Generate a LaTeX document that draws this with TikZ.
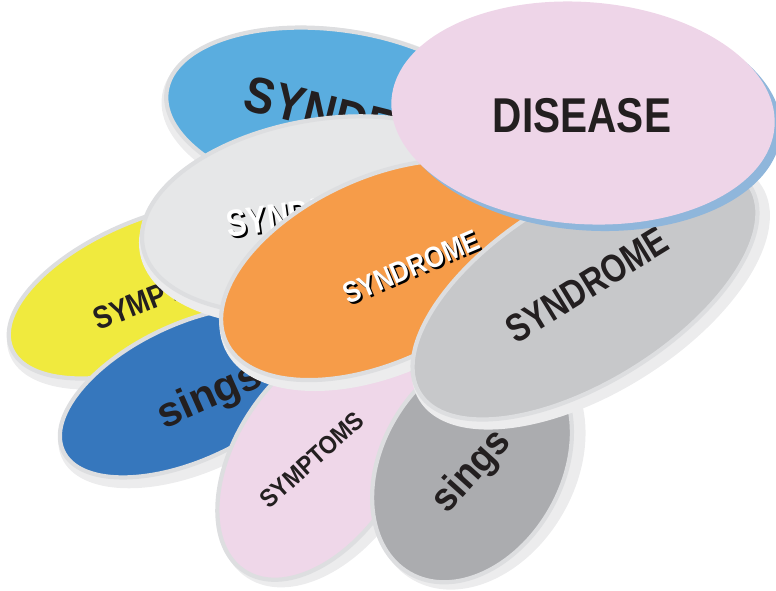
\documentclass[tikz,border=0pt]{standalone}
\usepackage{fontspec}
\setmainfont{Liberation Sans}
\definecolor{halogray}{HTML}{ECECED}
\definecolor{rimgray}{HTML}{DDDEE0}
\definecolor{skyblob}{HTML}{5AADDF}
\definecolor{paleblob}{HTML}{E6E7E8}
\definecolor{lemonblob}{HTML}{F0EA3E}
\definecolor{navyblob}{HTML}{3677BD}
\definecolor{orangeblob}{HTML}{F69C49}
\definecolor{pinkblob}{HTML}{EFD7E9}
\definecolor{slateblob}{HTML}{ABACAF}
\definecolor{silverblob}{HTML}{C7C8CA}
\definecolor{diseaseblob}{HTML}{EED5E8}
\definecolor{diseaseshade}{HTML}{8FB6DB}
\definecolor{inkblack}{HTML}{231F20}

\begin{document}
\begin{tikzpicture}[x=0.01cm, y=-0.01cm]
	\tikzstyle{halo}=[fill=halogray]
	\tikzstyle{blob}=[draw=rimgray, line width=1.2pt]
	\tikzstyle{word}=[inner sep=0pt, text=inkblack, font=\bfseries]
	\tikzstyle{whiteword}=[inner sep=0pt, text=white, font=\bfseries]
	\tikzstyle{shadeword}=[inner sep=0pt, text=black, font=\bfseries]
	\useasboundingbox (0,0) rectangle (776,590);
	% top blue
	\fill[halo, rotate around={-8:(335,115)}] (338,120) ellipse [x radius=177, y radius=92];
	\draw[blob, fill=skyblob, rotate around={-8:(335,115)}] (335,115) ellipse [x radius=170, y radius=85];
	\node[word, rotate=-14, xscale=0.88] (topsyn) at (372,124) {\fontsize{14.5pt}{14.5pt}\selectfont SYNDROME};
	% yellow
	\fill[halo, rotate around={22:(155,290)}] (158,296) ellipse [x radius=162, y radius=79];
	\draw[blob, fill=lemonblob, rotate around={22:(155,290)}] (155,290) ellipse [x radius=155, y radius=72];
	\node[word, rotate=21, xscale=0.85] (leftsym) at (166,293) {\fontsize{9pt}{9pt}\selectfont SYMPTOMS};
	% dark blue
	\fill[halo, rotate around={25:(190,392)}] (193,398) ellipse [x radius=147, y radius=75];
	\draw[blob, fill=navyblob, rotate around={25:(190,392)}] (190,392) ellipse [x radius=140, y radius=68];
	\node[word, rotate=24] (leftsig) at (210,397) {\fontsize{12pt}{12pt}\selectfont sings};
	% pale grey
	\fill[halo, rotate around={10:(320,215)}] (323,221) ellipse [x radius=187, y radius=102];
	\draw[blob, fill=paleblob, rotate around={10:(320,215)}] (320,215) ellipse [x radius=180, y radius=95];
	\node[shadeword, rotate=8, xscale=0.8] (palesynshade) at (316,214) {\fontsize{10.8pt}{10.8pt}\selectfont SYNDROME};
	\node[whiteword, rotate=8, xscale=0.8] (palesyn) at (314,212) {\fontsize{10.8pt}{10.8pt}\selectfont SYNDROME};
	% light pink
	\fill[halo, rotate around={57:(318,458)}] (321,464) ellipse [x radius=142, y radius=89];
	\draw[blob, fill=pinkblob, rotate around={57:(318,458)}] (318,458) ellipse [x radius=135, y radius=82];
	\node[word, rotate=42, xscale=0.9] (lowsym) at (312,460) {\fontsize{7.2pt}{7.2pt}\selectfont SYMPTOMS};
	% orange
	\fill[halo, rotate around={25:(380,270)}] (383,276) ellipse [x radius=177, y radius=99];
	\draw[blob, fill=orangeblob, rotate around={25:(380,270)}] (380,270) ellipse [x radius=170, y radius=92];
	\node[shadeword, rotate=23, xscale=0.85] (midsynshade) at (413,269) {\fontsize{8.4pt}{8.4pt}\selectfont SYNDROME};
	\node[whiteword, rotate=23, xscale=0.85] (midsyn) at (411,267) {\fontsize{8.4pt}{8.4pt}\selectfont SYNDROME};
	% dark grey
	\fill[halo, rotate around={60:(472,465)}] (475,471) ellipse [x radius=132, y radius=97];
	\draw[blob, fill=slateblob, rotate around={60:(472,465)}] (472,465) ellipse [x radius=125, y radius=90];
	\node[word, rotate=48, xscale=0.92] (lowsig) at (472,472) {\fontsize{11.4pt}{11.4pt}\selectfont sings};
	% grey
	\fill[halo, rotate around={32:(585,290)}] (588,296) ellipse [x radius=202, y radius=99];
	\draw[blob, fill=silverblob, rotate around={32:(585,290)}] (585,290) ellipse [x radius=195, y radius=92];
	\node[word, rotate=31.5, xscale=0.8] (rightsyn) at (587,285) {\fontsize{11.2pt}{11.2pt}\selectfont SYNDROME};
	% disease
	\fill[diseaseshade, rotate around={-4:(583,113)}] (590,119) ellipse [x radius=192, y radius=111];
	\fill[diseaseblob, rotate around={-4:(583,113)}] (583,113) ellipse [x radius=192, y radius=111];
	\node[word, xscale=0.83] (disease) at (582,116) {\fontsize{13.9pt}{13.9pt}\selectfont DISEASE};
\end{tikzpicture}
\end{document}
